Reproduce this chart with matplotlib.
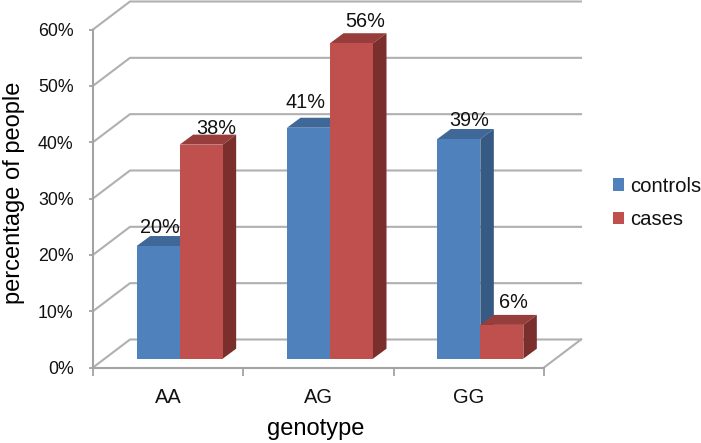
import matplotlib
matplotlib.use("Agg")
import matplotlib.pyplot as plt
from matplotlib.patches import Polygon

plt.rcParams['font.family'] = ['Liberation Sans', 'DejaVu Sans']

# Data
categories = ['AA', 'AG', 'GG']
controls = [20, 41, 39]
cases = [38, 56, 6]
y_ticks = [0, 10, 20, 30, 40, 50, 60]

# Style
W, H = 701, 443
GRID = '#b0b0b0'
AXIS = '#a3a3a3'
TEXT = '#111111'
BLUE, BLUE_TOP, BLUE_SIDE = '#4f81bd', '#3f6797', '#375a85'
RED, RED_TOP, RED_SIDE = '#c0504d', '#973d3b', '#7a2f2d'

fig = plt.figure(figsize=(W / 100, H / 100), dpi=100)
ax = fig.add_axes([93 / W, (H - 367.5) / H, 451 / W, 338 / H])
ax.set_xlim(-0.5, 2.5)
ax.set_ylim(0, 60)
ax.patch.set_alpha(0)

px_x = 3 / 451          # data units per pixel, x
px_y = 60 / 338         # data units per pixel, y
wall_dx, wall_dy = 37 * px_x, 28 * px_y
bar_dx, bar_dy = 13.5 * px_x, 10 * px_y
bar_w = 43 * px_x
bar_base = 8.8 * px_y
group_shift = 11.5 * px_x

# Back wall grid lines and floor
for v in y_ticks:
    ax.plot([-0.5, -0.5 + wall_dx, 2.5 + wall_dx],
            [v, v + wall_dy, v + wall_dy],
            color=GRID, lw=1.5, clip_on=False, zorder=1, solid_joinstyle='miter')
ax.plot([2.5, 2.5 + wall_dx], [0, wall_dy], color=GRID, lw=1.5, clip_on=False, zorder=1)

# Bars
def add_bar(x, value, front, top, side, label=None):
    b = ax.bar(x, value, width=bar_w, bottom=bar_base, align='edge',
               color=front, zorder=3, clip_on=False, label=label)
    t = bar_base + value
    ax.add_patch(Polygon([(x, t), (x + bar_w, t), (x + bar_w + bar_dx, t + bar_dy), (x + bar_dx, t + bar_dy)],
                         closed=True, fc=top, ec='none', zorder=2.5, clip_on=False))
    r = x + bar_w
    ax.add_patch(Polygon([(r, bar_base), (r + bar_dx, bar_base + bar_dy), (r + bar_dx, t + bar_dy), (r, t)],
                         closed=True, fc=side, ec='none', zorder=2.5, clip_on=False))
    return b

h1 = h2 = None
for i in range(len(categories)):
    left = i + group_shift - bar_w
    h1 = add_bar(left, controls[i], BLUE, BLUE_TOP, BLUE_SIDE, 'controls' if i == 0 else None)
    h2 = add_bar(left + bar_w, cases[i], RED, RED_TOP, RED_SIDE, 'cases' if i == 0 else None)

# Data labels (manually placed in the original), offsets in pixels
ctrl_off = [(2, 19), (-3, 25), (10, 18)]
case_off = [(15, 16), (14, 22), (12, 22)]
for i in range(len(categories)):
    left = i + group_shift - bar_w
    for x, v, off in ((left + bar_w / 2, controls[i], ctrl_off[i]),
                      (left + 1.5 * bar_w, cases[i], case_off[i])):
        ax.annotate(f'{v}%', (x, bar_base + v),
                    xytext=(off[0] * 0.72, off[1] * 0.72), textcoords='offset points',
                    ha='center', va='center', fontsize=14.3, color=TEXT, zorder=5,
                    annotation_clip=False)

# Axes
for s in ('top', 'right'):
    ax.spines[s].set_visible(False)
for s in ('left', 'bottom'):
    ax.spines[s].set_color(AXIS)
    ax.spines[s].set_linewidth(1.5)
    ax.spines[s].set_zorder(2)

ax.set_yticks(y_ticks)
ax.set_yticklabels([f'{v}%' for v in y_ticks], fontsize=12.8, color=TEXT)
ax.tick_params(axis='y', length=3, width=1.3, color=AXIS, pad=11)
ax.set_xticks([-0.5, 0.5, 1.5, 2.5])
ax.set_xticklabels([])
ax.tick_params(axis='x', length=6, width=1.3, color=AXIS)
ax.set_xticks(range(len(categories)), minor=True)
ax.set_xticklabels(categories, minor=True, fontsize=14.4, color=TEXT)
ax.tick_params(axis='x', which='minor', length=0, pad=15)

fig.text(316 / W, 1 - 429 / H, 'genotype', fontsize=17, ha='center', va='center', color='black')
fig.text(14 / W, 1 - 193 / H, 'percentage of people', fontsize=17, rotation=90,
         ha='center', va='center', color='black')

leg = fig.legend(handles=[h1, h2], labels=['controls', 'cases'],
                 loc='center left', bbox_to_anchor=(613 / W, 1 - 203 / H),
                 frameon=False, fontsize=14.6, handlelength=0.55, handleheight=0.55,
                 handletextpad=0.3, labelspacing=0.72, borderpad=0, borderaxespad=0)
for t in leg.get_texts():
    t.set_color(TEXT)

fig.savefig('out.png', dpi=100)
